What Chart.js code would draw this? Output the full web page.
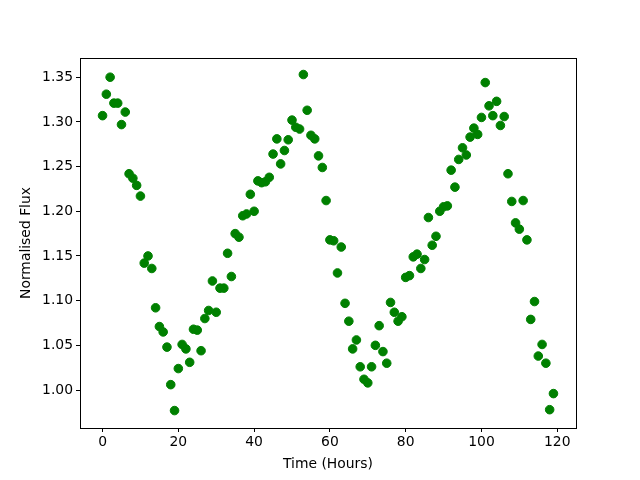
<!DOCTYPE html>
<html>
<head>
<meta charset="utf-8">
<script src="https://cdn.jsdelivr.net/npm/chart.js@4"></script>
<style>
  html, body { margin: 0; padding: 0; background: #fff; }
  #wrap { width: 640px; height: 480px; }
</style>
</head>
<body>
<div id="wrap"><canvas id="chart" width="640" height="480"></canvas></div>
<script>
// Hours since start of observation, one reading per hour.
const HOURS = Array.from({length: 120}, (_, i) => i);

// Normalised flux.
const FLUX = [
  1.307, 1.331, 1.350, 1.321, 1.321, 1.297, 1.311, 1.242, 1.237, 1.229,
  1.217, 1.142, 1.150, 1.136, 1.092, 1.071, 1.065, 1.048, 1.006, 0.977,
  1.024, 1.051, 1.046, 1.031, 1.068, 1.067, 1.044, 1.080, 1.089, 1.122,
  1.087, 1.114, 1.114, 1.153, 1.127, 1.175, 1.171, 1.195, 1.197, 1.219,
  1.200, 1.234, 1.232, 1.233, 1.238, 1.264, 1.281, 1.253, 1.268, 1.280,
  1.302, 1.294, 1.292, 1.353, 1.313, 1.285, 1.281, 1.262, 1.249, 1.212,
  1.168, 1.167, 1.131, 1.160, 1.097, 1.077, 1.046, 1.056, 1.026, 1.012,
  1.008, 1.026, 1.050, 1.072, 1.043, 1.030, 1.098, 1.087, 1.077, 1.082,
  1.126, 1.128, 1.149, 1.152, 1.136, 1.146, 1.193, 1.162, 1.172, 1.200,
  1.205, 1.206, 1.246, 1.227, 1.258, 1.271, 1.263, 1.283, 1.293, 1.286,
  1.305, 1.344, 1.318, 1.307, 1.323, 1.296, 1.306, 1.242, 1.211, 1.187,
  1.180, 1.212, 1.168, 1.079, 1.099, 1.038, 1.051, 1.030, 0.978, 0.996,
];

const X_TICKS = [0, 20, 40, 60, 80, 100, 120];
const Y_TICKS = [1.00, 1.05, 1.10, 1.15, 1.20, 1.25, 1.30, 1.35];

const FONT = {family: 'DejaVu Sans', size: 13.9};

// matplotlib draws a full box round the axes; Chart.js only has the axis lines.
const frame = {
  id: 'frame',
  afterDraw(chart) {
    const {ctx, chartArea: a} = chart;
    ctx.save();
    ctx.strokeStyle = '#000';
    ctx.lineWidth = 1;
    ctx.strokeRect(Math.round(a.left) + 0.5, Math.round(a.top) + 0.5,
                   Math.round(a.right - a.left), Math.round(a.bottom - a.top));
    ctx.restore();
  }
};

const tickGrid = {
  display: true, drawOnChartArea: false, drawTicks: true,
  tickLength: 4, color: '#000', lineWidth: 1,
};

new Chart(document.getElementById('chart').getContext('2d'), {
  type: 'scatter',
  data: {
    datasets: [{
      data: HOURS.map((h, i) => ({x: h, y: FLUX[i]})),
      backgroundColor: '#008000',
      borderColor: '#008000',
      borderWidth: 1,
      pointRadius: 4.3,
      pointHoverRadius: 4.3,
    }]
  },
  options: {
    responsive: false,
    animation: false,
    devicePixelRatio: 1,
    layout: {padding: {left: 0, top: 58, right: 64, bottom: 0}},
    plugins: {legend: {display: false}, tooltip: {enabled: false}},
    scales: {
      x: {
        type: 'linear', min: -5.95, max: 124.95,
        afterFit: s => { s.height = 52; },
        afterBuildTicks: s => { s.ticks = X_TICKS.map(v => ({value: v})); },
        grid: tickGrid,
        border: {display: true, color: '#000'},
        ticks: {color: '#000', font: FONT, padding: 2, maxRotation: 0,
                callback: v => String(v)},
        title: {display: true, text: 'Time (Hours)', color: '#000', font: FONT,
                padding: {top: 0, bottom: 7}},
      },
      y: {
        type: 'linear', min: 0.9575, max: 1.3715,
        afterFit: s => { s.width = 80; },
        afterBuildTicks: s => { s.ticks = Y_TICKS.map(v => ({value: v})); },
        grid: tickGrid,
        border: {display: true, color: '#000'},
        ticks: {color: '#000', font: FONT, padding: 3,
                callback: v => Number(v).toFixed(2)},
        title: {display: true, text: 'Normalised Flux', color: '#000', font: FONT,
                padding: {top: 18, bottom: 0}},
      },
    },
  },
  plugins: [frame],
});
</script>
</body>
</html>
